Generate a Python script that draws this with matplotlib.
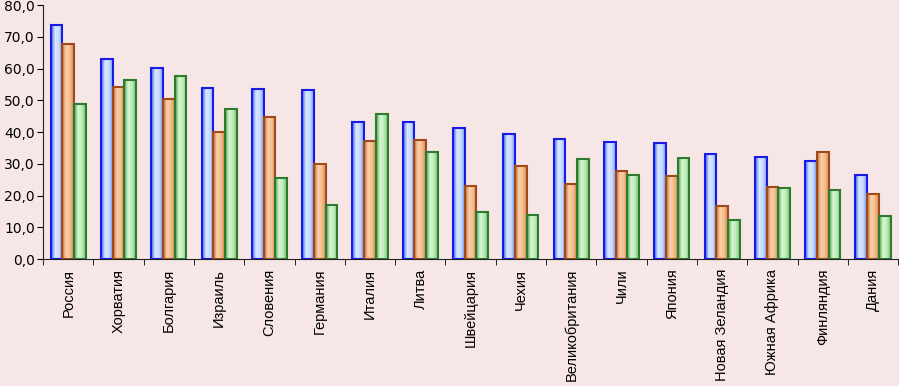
import matplotlib.pyplot as plt
import numpy as np
from matplotlib.colors import LinearSegmentedColormap
from matplotlib.ticker import FuncFormatter, MultipleLocator

countries = ['Россия', 'Хорватия', 'Болгария', 'Израиль', 'Словения', 'Германия',
             'Италия', 'Литва', 'Швейцария', 'Чехия', 'Великобритания', 'Чили',
             'Япония', 'Новая Зеландия', 'Южная Африка', 'Финляндия', 'Дания']
blue = [73.7, 63.0, 60.2, 53.9, 53.4, 53.3, 43.2, 43.2, 41.2, 39.4, 37.9, 36.9,
        36.5, 33.0, 32.1, 31.0, 26.4]
orange = [67.7, 54.2, 50.4, 40.1, 44.8, 30.0, 37.2, 37.5, 23.0, 29.2, 23.5, 27.7,
          26.0, 16.8, 22.8, 33.8, 20.4]
green = [48.7, 56.4, 57.6, 47.1, 25.6, 17.1, 45.7, 33.6, 14.8, 13.9, 31.5, 26.5,
         31.8, 12.4, 22.4, 21.6, 13.5]

bg = '#F6E6E6'
styles = [
    (blue, '#1A1AE6', ['#3A5AF0', '#D8E8FF', '#C8DCFF', '#7E9EF8']),
    (orange, '#A04A1A', ['#C0683A', '#FCD2A8', '#F6BE8E', '#D88A58']),
    (green, '#2E7A2E', ['#4E9E4E', '#D6F8D0', '#BDEDB8', '#78C078']),
]

fig = plt.figure(figsize=(8.99, 3.86), dpi=100, facecolor=bg)
ax = fig.add_axes([0.048, 0.329, 0.951, 0.658])
ax.set_facecolor(bg)

x = np.arange(len(countries))
w = 0.233
for i, (vals, edge, grad) in enumerate(styles):
    bars = ax.bar(x + (i - 1) * w, vals, w, facecolor='none', edgecolor=edge,
                  linewidth=1.5, zorder=3)
    cmap = LinearSegmentedColormap.from_list('g', grad)
    img = np.linspace(0, 1, 64).reshape(1, -1)
    for b in bars:
        x0, y0 = b.get_x(), b.get_y()
        ax.imshow(img, cmap=cmap, aspect='auto', zorder=2,
                  extent=(x0, x0 + b.get_width(), y0, y0 + b.get_height()),
                  interpolation='bilinear')

ax.set_xlim(-0.5, len(countries) - 0.5)
ax.set_ylim(0, 80)
ax.yaxis.set_major_locator(MultipleLocator(10))
ax.yaxis.set_major_formatter(FuncFormatter(lambda v, p: f'{v:.1f}'.replace('.', ',')))
ax.tick_params(axis='y', labelsize=10, length=4, direction='out', pad=2)

ax.set_xticks(x)
ax.set_xticklabels(countries, rotation=90, fontsize=10.5, family='Liberation Sans')
ax.set_xticks(np.arange(len(countries) + 1) - 0.5, minor=True)
ax.tick_params(axis='x', which='major', length=0, pad=7)
ax.tick_params(axis='x', which='minor', length=4, direction='out')

for s in ['top', 'right']:
    ax.spines[s].set_visible(False)
for s in ['left', 'bottom']:
    ax.spines[s].set_color('#222222')

fig.savefig('out.png', dpi=100, facecolor=bg)
